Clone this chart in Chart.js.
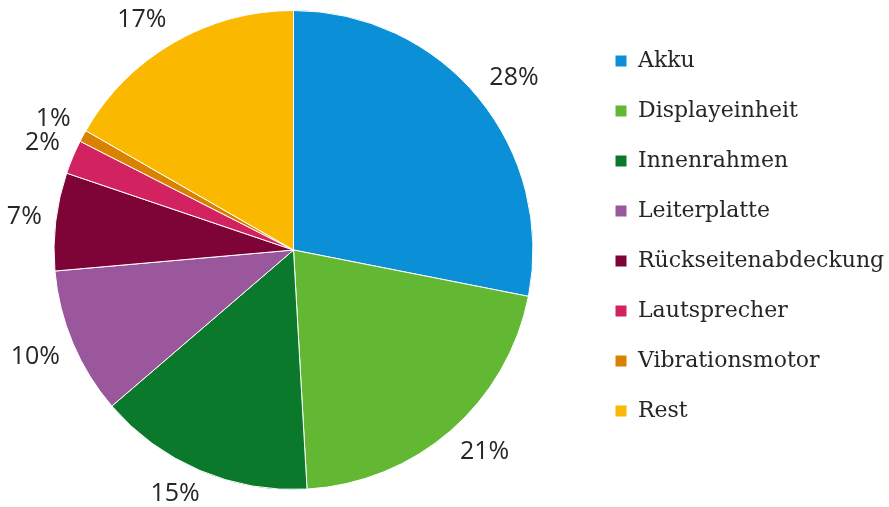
<!DOCTYPE html>
<html>
<head>
<meta charset="utf-8">
<script src="https://cdn.jsdelivr.net/npm/chart.js@4/dist/chart.umd.min.js"></script>
<style>
  html, body { margin: 0; padding: 0; background: #fff; }
  #wrap { width: 889px; height: 507px; }
</style>
</head>
<body>
<div id="wrap"><canvas id="pieChart" width="889" height="507"></canvas></div>
<script>
// Kategorien und Anteile (in %)
var categories = ['Akku', 'Displayeinheit', 'Innenrahmen', 'Leiterplatte', 'Rückseitenabdeckung', 'Lautsprecher', 'Vibrationsmotor', 'Rest'];
var shares = [28.1, 21.0, 14.6, 9.9, 6.6, 2.3, 0.8, 16.7];
var colors = ['#0b8fd6', '#62b832', '#0a792b', '#9b579c', '#7e0337', '#d2225f', '#d98200', '#fbb800'];

function clamp1(v) { return Math.max(-1, Math.min(1, v)); }

// Prozent-Beschriftung ausserhalb der Segmente (naechste Ecke des Textfelds am Kreisrand + Abstand)
var outsideLabels = {
    id: 'outsideLabels',
    afterDatasetsDraw: function(chart) {
        var ctx = chart.ctx;
        var meta = chart.getDatasetMeta(0);
        ctx.save();
        ctx.font = '25px "Open Sans", sans-serif';
        ctx.fillStyle = '#262626';
        ctx.textAlign = 'center';
        ctx.textBaseline = 'middle';
        meta.data.forEach(function(arc, i) {
            var mid = (arc.startAngle + arc.endAngle) / 2;
            var s = Math.cos(mid), c = Math.sin(mid); // x / y direction
            var text = Math.round(shares[i]) + '%';
            var w = ctx.measureText(text).width;
            var h = 22;
            var r = arc.outerRadius + 14;
            var x = arc.x + r * s + (w / 2) * clamp1(s * 2);
            var y = arc.y + r * c + (h / 2) * clamp1(c * 2);
            ctx.fillText(text, x, y);
        });
        ctx.restore();
    }
};

document.addEventListener('DOMContentLoaded', function() {
    var ctx = document.getElementById('pieChart').getContext('2d');

    var pieChart = new Chart(ctx, {
        type: 'pie',
        data: {
            labels: categories,
            datasets: [{
                data: shares,
                backgroundColor: colors,
                borderColor: '#ffffff',
                borderWidth: 1
            }]
        },
        options: {
            responsive: false,
            animation: false,
            layout: {
                padding: { top: 10, bottom: 17, left: 0, right: 0 }
            },
            plugins: {
                legend: {
                    position: 'right',
                    align: 'start',
                    maxWidth: 302,
                    title: { display: true, text: ' ', font: { size: 10 }, padding: 0 },
                    labels: {
                        boxWidth: 12,
                        boxHeight: 12,
                        padding: 28,
                        color: '#262626',
                        font: { family: '"DejaVu Serif", serif', size: 22 }
                    }
                },
                tooltip: { enabled: false }
            }
        },
        plugins: [outsideLabels]
    });
});
</script>
</body>
</html>
